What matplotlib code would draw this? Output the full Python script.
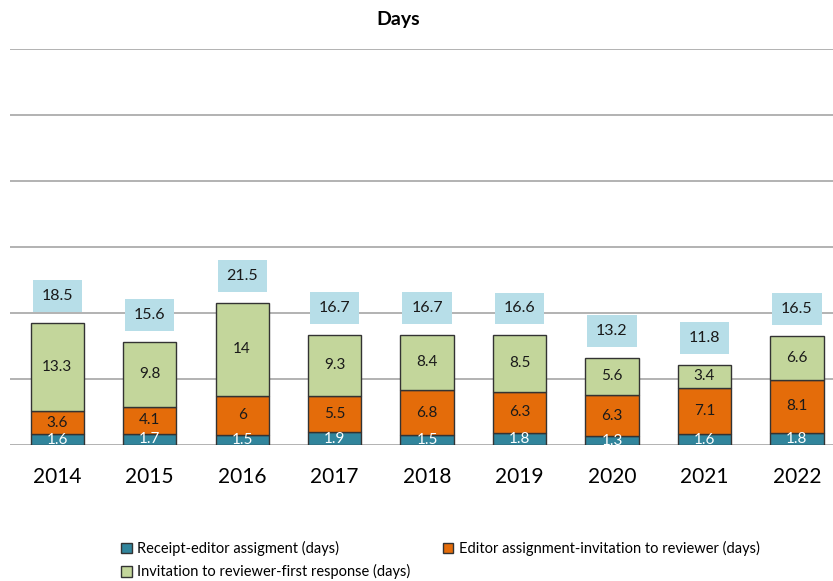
import matplotlib.pyplot as plt
import numpy as np

years = ['2014', '2015', '2016', '2017', '2018', '2019', '2020', '2021', '2022']
receipt_editor = [1.6, 1.7, 1.5, 1.9, 1.5, 1.8, 1.3, 1.6, 1.8]
editor_invitation = [3.6, 4.1, 6, 5.5, 6.8, 6.3, 6.3, 7.1, 8.1]
invitation_response = [13.3, 9.8, 14, 9.3, 8.4, 8.5, 5.6, 3.4, 6.6]
total_labels = ['18.5', '15.6', '21.5', '16.7', '16.7', '16.6', '13.2', '11.8', '16.5']

series_names = ['Receipt-editor assigment (days)',
                'Editor assignment-invitation to reviewer (days)',
                'Invitation to reviewer-first response (days)']
colors = ['#31859C', '#E46C0A', '#C3D69B']
text_colors = ['white', '#1a1a1a', '#1a1a1a']

plt.rcParams['font.family'] = ['Lato', 'DejaVu Sans']

fig = plt.figure(figsize=(8.33, 5.81), dpi=100)
ax = fig.add_axes([10 / 833, 1 - 445 / 581, 823 / 833, (445 - 49) / 581])

x = np.arange(len(years))
width = 0.575
bottom = np.zeros(len(years))
handles = []
for vals, name, col, tcol in zip([receipt_editor, editor_invitation, invitation_response],
                                 series_names, colors, text_colors):
    vals = np.array(vals, dtype=float)
    bars = ax.bar(x, vals, width, bottom=bottom, color=col, edgecolor='#333333',
                  linewidth=1, label=name, zorder=3)
    handles.append(bars)
    for xi, b, v in zip(x, bottom, vals):
        ax.text(xi, b + v / 2, f'{v:g}', ha='center', va='center',
                fontsize=11, color=tcol, zorder=4, clip_on=True)
    bottom += vals

for xi, top, lab in zip(x, bottom, total_labels):
    ax.text(xi, top + 4.1, lab, ha='center', va='center', fontsize=11.5,
            color='#1a1a1a', zorder=4,
            bbox=dict(boxstyle='square,pad=0.55', facecolor='#B7DEE8',
                      edgecolor='none'))

ax.set_xlim(-0.51, 8.39)
ax.set_ylim(0, 60)
ax.set_yticks(np.arange(0, 61, 10))
ax.yaxis.grid(True, color='#A6A6A6', linewidth=1.2, zorder=0)
ax.set_yticklabels([])
ax.tick_params(axis='y', length=0)
ax.set_xticks(x)
ax.set_xticklabels(years, fontsize=15)
ax.tick_params(axis='x', length=0, pad=16)
for s in ax.spines.values():
    s.set_visible(False)

fig.text(398 / 833, 1 - 19 / 581, 'Days', ha='center', va='center',
         fontsize=14, fontweight='bold')

# legend filled row by row like the original
order = [0, 2, 1]
fig.legend([handles[i] for i in order], [series_names[i] for i in order],
           loc='upper left', bbox_to_anchor=(108 / 833, 1 - 528 / 581), ncol=2,
           frameon=False, fontsize=10.5, handlelength=0.75, handleheight=0.75,
           handletextpad=0.35, columnspacing=2.2, labelspacing=0.55)

fig.savefig('out.png', dpi=100)
